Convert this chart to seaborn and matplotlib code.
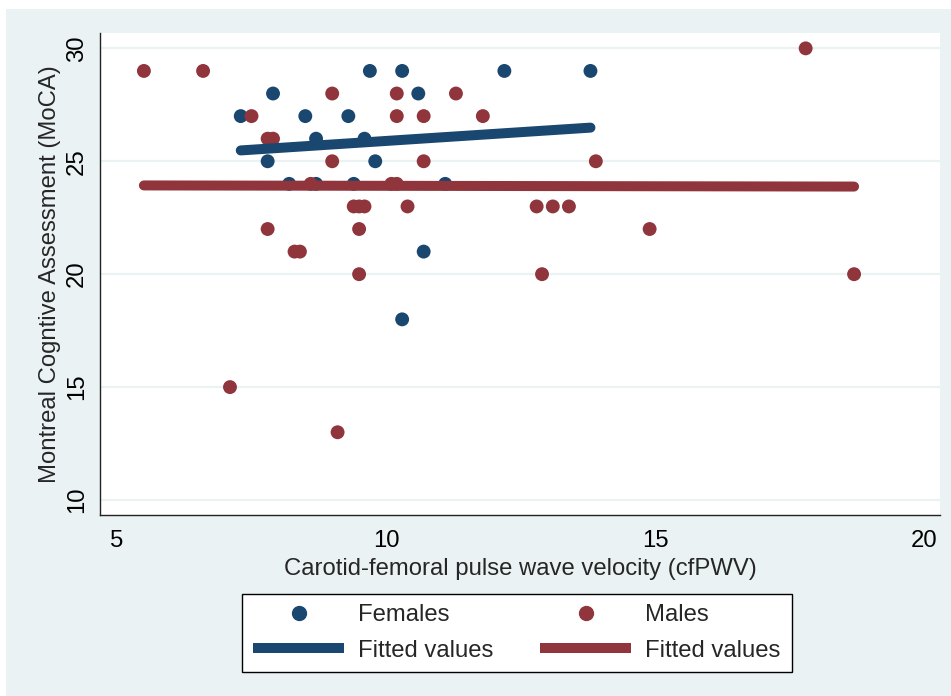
import numpy as np
import pandas as pd
import matplotlib
matplotlib.use("Agg")
import matplotlib.pyplot as plt
from matplotlib.lines import Line2D
from matplotlib.patches import Rectangle
import seaborn as sns

# ---- data ----
fem_x = [7.9, 7.3, 8.5, 8.7, 7.8, 8.2, 8.7, 9.7, 10.3, 12.2, 13.8, 10.6, 9.3,
         9.6, 9.8, 9.4, 11.1, 10.7, 10.3]
fem_y = [28, 27, 27, 26, 25, 24, 24, 29, 29, 29, 29, 28, 27,
         26, 25, 24, 24, 21, 18]
male_x = [5.5, 6.6, 17.8, 7.5, 7.8, 7.9, 9.0, 10.2, 11.3, 10.2, 10.7, 11.8,
          9.0, 10.7, 13.9, 8.6, 10.1, 10.2, 9.4, 9.5, 9.6, 10.4, 12.8, 13.1,
          13.4, 7.8, 9.5, 14.9, 8.3, 8.4, 9.5, 12.9, 18.7, 7.1, 9.1]
male_y = [29, 29, 30, 27, 26, 26, 28, 28, 28, 27, 27, 27,
          25, 25, 25, 24, 24, 24, 23, 23, 23, 23, 23, 23,
          23, 22, 22, 22, 21, 21, 20, 20, 20, 15, 13]
fit_f_x = [7.3, 13.8]
fit_f_y = [25.48, 26.49]
fit_m_x = [5.5, 18.7]
fit_m_y = [23.93, 23.88]
x_ticks = [5, 10, 15, 20]
y_ticks = [10, 15, 20, 25, 30]
x_label = "Carotid-femoral pulse wave velocity (cfPWV)"
y_label = "Montreal Cogntive Assessment (MoCA)"
groups = ["Females", "Males"]

NAVY = "#1A476F"
MAROON = "#90353B"
BG = "#EAF2F3"
FS = 17.2

sns.set_style("white")
plt.rcParams["font.family"] = ["Liberation Sans", "DejaVu Sans"]

df = pd.DataFrame({
    "x": fem_x + male_x,
    "y": fem_y + male_y,
    "g": [groups[0]] * len(fem_x) + [groups[1]] * len(male_x),
})
fit_df = pd.DataFrame({
    "x": fit_f_x + fit_m_x,
    "y": fit_f_y + fit_m_y,
    "g": [groups[0]] * 2 + [groups[1]] * 2,
})
pal = {groups[0]: NAVY, groups[1]: MAROON}

fig = plt.figure(figsize=(9.51, 6.96), dpi=100, facecolor="white")
fig.patches.append(Rectangle((6 / 951, 0), 1, 1 - 9 / 696, transform=fig.transFigure,
                             facecolor=BG, edgecolor="none", zorder=-10))
ax = fig.add_axes([100 / 951, 1 - 515 / 696, 840 / 951, 482 / 696])
ax.set_facecolor("white")

sns.scatterplot(data=df, x="x", y="y", hue="g", palette=pal, s=100,
                edgecolor="none", linewidth=0, ax=ax, legend=False, zorder=3)
sns.lineplot(data=fit_df, x="x", y="y", hue="g", palette=pal, linewidth=7.2,
             ax=ax, legend=False, zorder=4, solid_capstyle="round")

ax.set_xlim(4.684, 20.297)
ax.set_ylim(9.336, 30.68)
ax.set_xticks(x_ticks)
ax.set_yticks(y_ticks)
ax.yaxis.grid(True, color=BG, linewidth=1.6, zorder=0)
ax.xaxis.grid(False)
ax.set_axisbelow(True)
for s in ["top", "right"]:
    ax.spines[s].set_visible(False)
for s in ["left", "bottom"]:
    ax.spines[s].set_color("#222222")
    ax.spines[s].set_linewidth(1.0)
ax.tick_params(axis="both", direction="out", length=7, width=1.0, color="#222222",
               labelsize=FS, labelcolor="black")
ax.tick_params(axis="x", pad=4)
ax.tick_params(axis="y", pad=1.5)
for lab in ax.get_yticklabels():
    lab.set_rotation(90)
    lab.set_va("center")
ax.set_xlabel(x_label, fontsize=FS, labelpad=4)
ax.set_ylabel(y_label, fontsize=FS, labelpad=4)

handles = [
    Line2D([], [], marker="o", linestyle="none", color=NAVY, markersize=10),
    Line2D([], [], color=NAVY, linewidth=7.2, solid_capstyle="butt"),
    Line2D([], [], marker="o", linestyle="none", color=MAROON, markersize=10),
    Line2D([], [], color=MAROON, linewidth=7.2, solid_capstyle="butt"),
]
labels = [groups[0], "Fitted values", groups[1], "Fitted values"]
leg = fig.legend(handles, labels, ncol=2, loc="center",
                 bbox_to_anchor=(517 / 951, 1 - 633 / 696),
                 fontsize=FS, frameon=True, fancybox=False, edgecolor="black",
                 facecolor="white", framealpha=1, handlelength=3.8,
                 handletextpad=0.6, columnspacing=1.95, borderpad=0.45,
                 labelspacing=0.55, borderaxespad=0)
leg.get_frame().set_linewidth(1.0)

fig.savefig("out.png", dpi=100, facecolor=fig.get_facecolor())
